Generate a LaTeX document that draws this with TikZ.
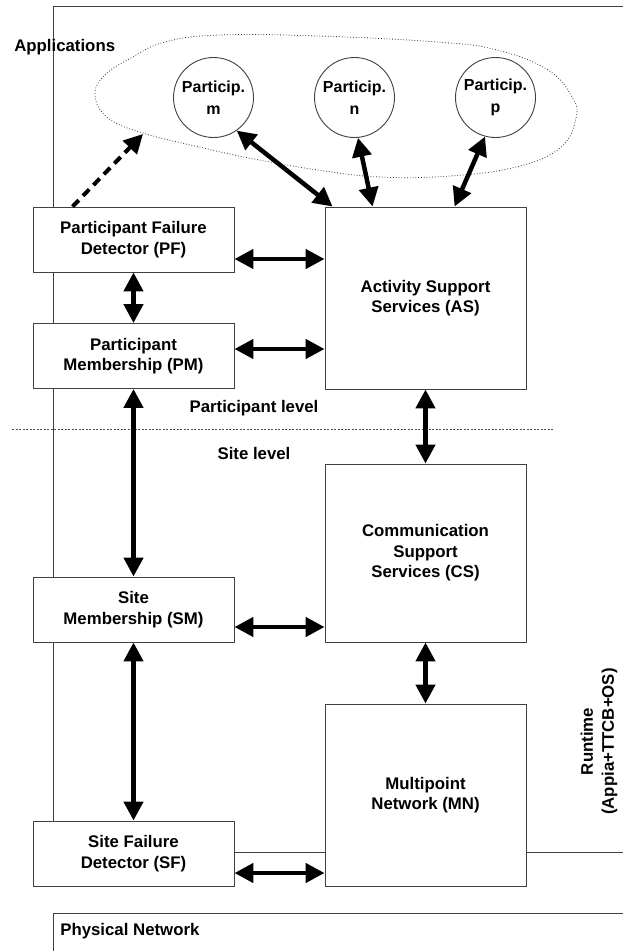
\documentclass[tikz,border=0pt]{standalone}
\usepackage{fontspec}
\setmainfont{Liberation Sans}
\usetikzlibrary{positioning,arrows.meta}

\begin{document}
\begin{tikzpicture}[x=1pt,y=-1pt,on grid,semithick,
    >={Triangle[length=19pt,width=19pt]},
    every node/.style={font=\fontsize{16.8}{20.5}\selectfont\bfseries},
    blockbox/.style={draw=black!75,line width=0.9pt,fill=white,align=center,
      minimum width=201pt,minimum height=65pt,inner sep=2pt},
    bigbox/.style={blockbox,minimum height=182pt},
    partic/.style={circle,draw=black!75,line width=0.9pt,fill=white,align=center,
      minimum size=80pt,inner sep=0pt,font=\fontsize{16}{22}\selectfont\bfseries},
    dbl/.style={<->,line width=4.5pt},
    dasharrow/.style={->,line width=4pt,dash pattern=on 9pt off 6pt},
    frame/.style={draw=black!75,line width=0.9pt},
    cloud/.style={draw=black!80,dotted,line width=0.8pt},
    lvl/.style={draw=black!70,dash pattern=on 2pt off 1.5pt,line width=0.7pt}]
  \useasboundingbox (0,0) rectangle (623,951);
  \clip (0,0) rectangle (623,951);

  % runtime frame and physical network
  \draw[frame] (53,6) rectangle (660,852);
  \draw[frame] (53,990) -- (53,913) -- (660,913);
  \draw[lvl] (12,429) -- (554,429);
  \draw[cloud] plot[smooth cycle,tension=0.7] coordinates {(95,95) (105,75)
    (131,58) (165,42) (220,35) (318,36) (437,42) (497,50) (548,70) (572,97)
    (576,118) (560,148) (516,167) (450,176) (380,177) (318,170) (254,159)
    (199,147) (143,133) (108,118)};
  \coordinate (cloudtip) at (143,134);

  % participants
  \node[partic] (m) at (213.5,97.5) {Particip.\\m};
  \node[partic] (n) [right=141pt of m] {Particip.\\n};
  \node[partic] (p) [right=141pt of n] {Particip.\\p};

  % participant level
  \node[blockbox] (pf) at (133.5,239.5) {Participant Failure\\Detector (PF)};
  \node[blockbox] (pm) [below=116.5pt of pf] {Participant\\Membership (PM)};
  \node[bigbox] (as) [below right=58.5pt and 292pt of pf] {Activity Support\\Services (AS)};

  % site level
  \node[bigbox,minimum height=178pt] (cs) [below=255pt of as] {Communication\\Support\\Services (CS)};
  \node[blockbox] (sm) [below=253.5pt of pm] {Site\\Membership (SM)};
  \node[bigbox] (mn) [below=242pt of cs] {Multipoint\\Network (MN)};
  \node[blockbox] (sf) [below=244pt of sm] {Site Failure\\Detector (SF)};

  % labels
  \node[anchor=west,inner sep=0pt] (apps) at (14,47) {Applications};
  \node (plevel) at (254,408) {Participant level};
  \node (slevel) at (254,453) {Site level};
  \node[rotate=90,align=center,font=\fontsize{16.8}{21}\selectfont\bfseries] (runtime) at (599,741.5) {Runtime\\(Appia+TTCB+OS)};
  \node[anchor=west,inner sep=0pt] (phys) at (60,931) {Physical Network};

  % arrows
  \draw[dasharrow] ([xshift=40pt]pf.north west) -- (cloudtip);
  \draw[dbl] (m.-55) -- ([xshift=8pt]as.north west);
  \draw[dbl] (n.-85) -- ([xshift=48pt]as.north west);
  \draw[dbl] (p.-105) -- ([xshift=130pt]as.north west);
  \draw[dbl] ([yshift=-19.5pt]pf.east) -- ([yshift=-19.5pt]pf.east -| as.west);
  \draw[dbl] ([yshift=7pt]pm.east) -- ([yshift=7pt]pm.east -| as.west);
  \draw[dbl] (pf) -- (pm);
  \draw[dbl] (pm) -- (sm);
  \draw[dbl] (sm) -- (sf);
  \draw[dbl] (as) -- (cs);
  \draw[dbl] (cs) -- (mn);
  \draw[dbl] ([yshift=-17.5pt]sm.east) -- ([yshift=-17.5pt]sm.east -| cs.west);
  \draw[dbl] ([yshift=-19.5pt]sf.east) -- ([yshift=-19.5pt]sf.east -| mn.west);
\end{tikzpicture}
\end{document}
